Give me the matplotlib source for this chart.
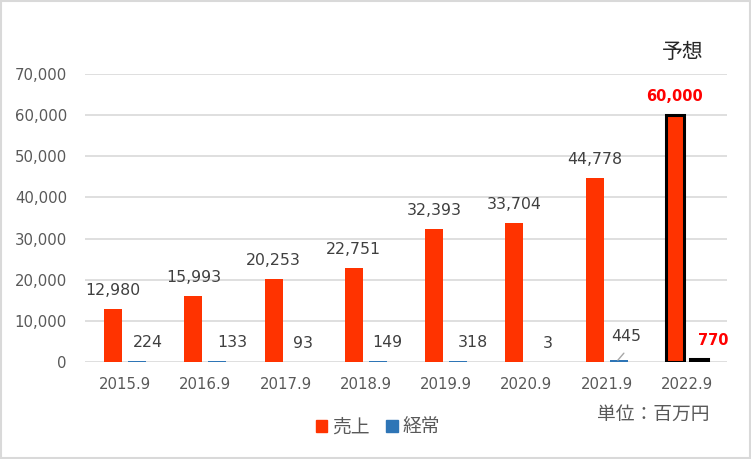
import matplotlib
matplotlib.use("Agg")
import matplotlib.pyplot as plt
from matplotlib.patches import Patch, Rectangle
import numpy as np

# data (百万円)
years = ["2015.9", "2016.9", "2017.9", "2018.9", "2019.9", "2020.9", "2021.9", "2022.9"]
sales = [12980, 15993, 20253, 22751, 32393, 33704, 44778, 60000]
ordinary = [224, 133, 93, 149, 318, 3, 445, 770]
forecast_idx = 7

# label nudges for the small 経常 labels (pixels, as placed in the original)
ord_dx_px = [11, 15, 5, 9, 15, 9, 8, 14]
ord_dy_px = [14, 14, 14, 14, 14, 14, 19, 14]

RED = "#ff3300"
BLUE = "#2e75b6"
GRID = "#d9d9d9"
AXIS_TXT = "#595959"
LABEL_TXT = "#404040"
PX = 0.72  # points per pixel at dpi=100

plt.rcParams["font.family"] = ["DejaVu Sans", "Noto Sans CJK JP"]

fig = plt.figure(figsize=(7.51, 4.59), dpi=100)
ax = fig.add_axes([85 / 751, 97 / 459, 642 / 751, 288 / 459])

x = np.arange(len(years))
w = 0.224
off = 0.15

edge_s = ["black" if i == forecast_idx else "none" for i in x]
lw_s = [2.2 if i == forecast_idx else 0 for i in x]
ax.bar(x - off, sales, w, color=RED, edgecolor=edge_s, linewidth=lw_s, zorder=3)
ax.bar(x + off, ordinary, w, color=BLUE, edgecolor=edge_s, linewidth=lw_s, zorder=3)

for i in x:
    bold = i == forecast_idx
    ax.annotate(f"{sales[i]:,}", (i - off, sales[i]), xytext=(0, 14 * PX),
                textcoords="offset points", ha="center", va="baseline",
                fontsize=10.5 if bold else 11.3,
                fontweight="bold" if bold else "normal",
                color="#ff0000" if bold else LABEL_TXT, zorder=4)
    ax.annotate(f"{ordinary[i]:,}", (i + off, ordinary[i]),
                xytext=(ord_dx_px[i] * PX, ord_dy_px[i] * PX),
                textcoords="offset points", ha="center", va="baseline",
                fontsize=10.5 if bold else 11.3,
                fontweight="bold" if bold else "normal",
                color="#ff0000" if bold else LABEL_TXT, zorder=4)

# leader line for the moved 445 label
ax.annotate("", xy=(6 + off - 0.01, ordinary[6]), xytext=(6 * PX, 7 * PX),
            textcoords="offset points",
            arrowprops=dict(arrowstyle="-", color="#a6a6a6", lw=1,
                            shrinkA=0, shrinkB=0), zorder=4)

ax.set_xlim(-0.5, len(years) - 0.5)
ax.set_ylim(0, 70000)
ax.set_yticks(np.arange(0, 70001, 10000))
ax.set_yticklabels([f"{v:,}" for v in range(0, 70001, 10000)])
ax.set_xticks(x)
ax.set_xticklabels(years)
ax.tick_params(axis="y", length=0, pad=13, labelsize=10.7, labelcolor=AXIS_TXT)
ax.tick_params(axis="x", length=0, pad=11, labelsize=10.7, labelcolor=AXIS_TXT)
ax.grid(axis="y", color=GRID, linewidth=1.2, zorder=0)
for s in ax.spines.values():
    s.set_visible(False)

fig.text(683 / 751, 1 - 52 / 459, "予想", ha="center", va="center",
         fontsize=15, color="#262626")
fig.text(710 / 751, 1 - 414 / 459, "単位：百万円", ha="right", va="center",
         fontsize=13.5, color=AXIS_TXT)

handles = [Patch(color=RED, label="売上"), Patch(color=BLUE, label="経常")]
fig.legend(handles=handles, loc="center", bbox_to_anchor=(378 / 751, 1 - 427 / 459),
           ncol=2, frameon=False, fontsize=13.5, labelcolor=AXIS_TXT,
           handlelength=0.6, handleheight=0.6, handletextpad=0.25, columnspacing=0.9)

fig.patches.append(Rectangle((0.0015, 0.002), 0.997, 0.996, transform=fig.transFigure,
                             fill=False, edgecolor=GRID, linewidth=1.5))

fig.savefig("out.png", dpi=100)
